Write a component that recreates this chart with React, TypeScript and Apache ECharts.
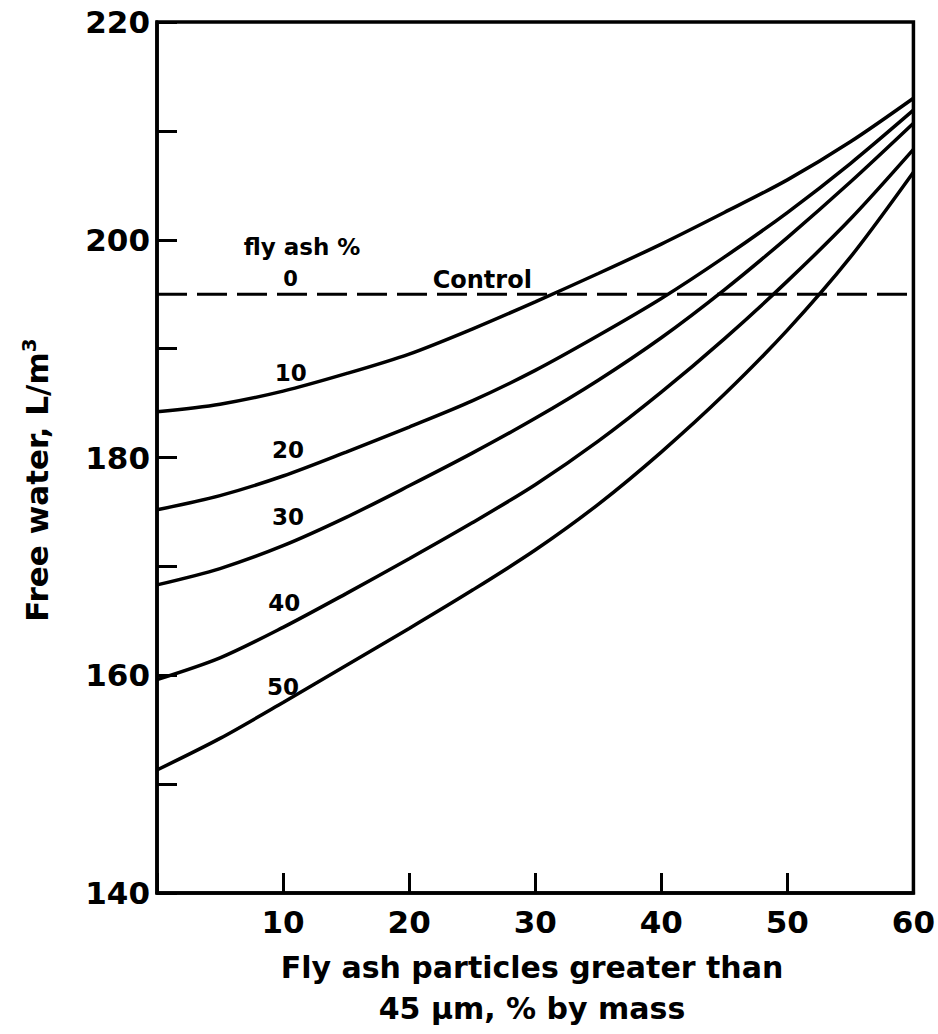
import { useEffect, useRef } from "react";
import * as echarts from "echarts";

// x: fly ash particles greater than 45 µm, % by mass
const xValues = [0, 5, 10, 15, 20, 25, 30, 35, 40, 45, 50, 55, 60];
// Free water, L/m3 for each fly ash % replacement
const flyAsh10 = [184.2, 184.9, 186.1, 187.7, 189.5, 191.8, 194.3, 196.9, 199.6, 202.5, 205.5, 209.0, 213.0];
const flyAsh20 = [175.2, 176.5, 178.3, 180.5, 182.8, 185.2, 188.0, 191.2, 194.6, 198.4, 202.5, 207.0, 211.9];
const flyAsh30 = [168.3, 169.8, 171.9, 174.5, 177.4, 180.4, 183.6, 187.1, 191.0, 195.4, 200.2, 205.3, 210.7];
const flyAsh40 = [159.6, 161.6, 164.4, 167.5, 170.7, 174.0, 177.5, 181.5, 186.0, 190.9, 196.2, 201.9, 208.3];
const flyAsh50 = [151.3, 154.2, 157.5, 160.9, 164.3, 167.8, 171.5, 175.7, 180.5, 185.8, 191.7, 198.4, 206.2];
const controlLevel = 195;
const controlRange = [0, 60];

// in-plot labels
const labelTexts = ["fly ash %", "0", "Control", "10", "20", "30", "40", "50"];
const labelX = [11.5, 10.6, 25.8, 10.6, 10.4, 10.4, 10.1, 10.0];
const labelY = [199.3, 196.4, 196.3, 187.8, 180.7, 174.5, 166.6, 158.9];
const labelSizes = [23, 21, 24, 23, 23, 23, 23, 23];

const FONT = "'DejaVu Sans', 'Liberation Sans', sans-serif";

export default function App() {
  const ref = useRef<HTMLDivElement>(null);
  useEffect(() => {
    if (!ref.current) return;
    const chart = echarts.init(ref.current, undefined, { renderer: "svg" });
    const curves = [flyAsh10, flyAsh20, flyAsh30, flyAsh40, flyAsh50];
    const lineSeries = curves.map((arr, k) => ({
      type: "line",
      name: "fly ash " + (k + 1) * 10 + "%",
      data: xValues.map((x, i) => [x, arr[i]]),
      smooth: 0.3,
      symbol: "none",
      lineStyle: { color: "#000", width: 3.5 },
      z: 3,
    }));
    chart.setOption({
      animation: false,
      backgroundColor: "#fff",
      grid: {
        left: 157,
        right: 18,
        top: 22,
        bottom: 141,
        show: true,
        borderColor: "#000",
        borderWidth: 3.5,
        backgroundColor: "transparent",
      },
      xAxis: {
        type: "value",
        min: 0,
        max: 60,
        interval: 10,
        axisLine: { show: true, onZero: false, lineStyle: { color: "#000", width: 3.5 } },
        axisTick: { show: true, inside: true, length: 20, lineStyle: { color: "#000", width: 3 } },
        splitLine: { show: false },
        axisLabel: {
          margin: 13,
          color: "#000",
          fontFamily: FONT,
          fontWeight: "bold",
          fontSize: 31,
          formatter: (v: number) => (v === 0 ? "" : String(v)),
        },
      },
      yAxis: {
        type: "value",
        min: 140,
        max: 220,
        interval: 10,
        axisLine: { show: true, onZero: false, lineStyle: { color: "#000", width: 3.5 } },
        axisTick: { show: true, inside: true, length: 20, lineStyle: { color: "#000", width: 3 } },
        splitLine: { show: false },
        axisLabel: {
          margin: 7,
          color: "#000",
          fontFamily: FONT,
          fontWeight: "bold",
          fontSize: 31,
          formatter: (v: number) => (v % 20 === 0 ? String(v) : ""),
        },
      },
      series: [
        ...lineSeries,
        {
          type: "line",
          name: "Control",
          data: controlRange.map((x) => [x, controlLevel]),
          symbol: "none",
          lineStyle: { color: "#000", width: 3, type: [30, 10] },
          z: 2,
        },
        {
          type: "scatter",
          name: "labels",
          symbolSize: 0,
          itemStyle: { opacity: 1, color: "#000" },
          data: labelTexts.map((t, i) => ({
            value: [labelX[i], labelY[i]],
            name: t,
            label: { fontSize: labelSizes[i], color: "#000", opacity: 1 },
          })),
          label: {
            show: true,
            position: "inside",
            formatter: (p: any) => p.name,
            color: "#000",
            opacity: 1,
            textBorderWidth: 0,
            fontFamily: FONT,
            fontWeight: "bold",
          },
          emphasis: { disabled: true },
          z: 5,
        },
      ],
      graphic: [
        {
          type: "text",
          x: 37,
          y: 480,
          rotation: Math.PI / 2,
          style: {
            text: "{a|Free water, L/m}{s|3}",
            align: "center",
            verticalAlign: "middle",
            fill: "#000",
            rich: {
              a: { fontFamily: FONT, fontWeight: "bold", fontSize: 31, fill: "#000" },
              s: { fontFamily: FONT, fontWeight: "bold", fontSize: 20, fill: "#000", verticalAlign: "top", padding: [0, 0, 16, 0] },
            },
          },
        },
        {
          type: "text",
          x: 532,
          y: 967,
          style: {
            text: "Fly ash particles greater than",
            align: "center",
            verticalAlign: "middle",
            fill: "#000",
            font: "bold 30px " + FONT,
          },
        },
        {
          type: "text",
          x: 532,
          y: 1008,
          style: {
            text: "45 µm, % by mass",
            align: "center",
            verticalAlign: "middle",
            fill: "#000",
            font: "bold 30px " + FONT,
          },
        },
      ],
    });
    return () => chart.dispose();
  }, []);
  return (
    <div
      ref={ref}
      style={{ position: "fixed", left: 0, top: 0, width: 938, height: 1034 }}
    />
  );
}
